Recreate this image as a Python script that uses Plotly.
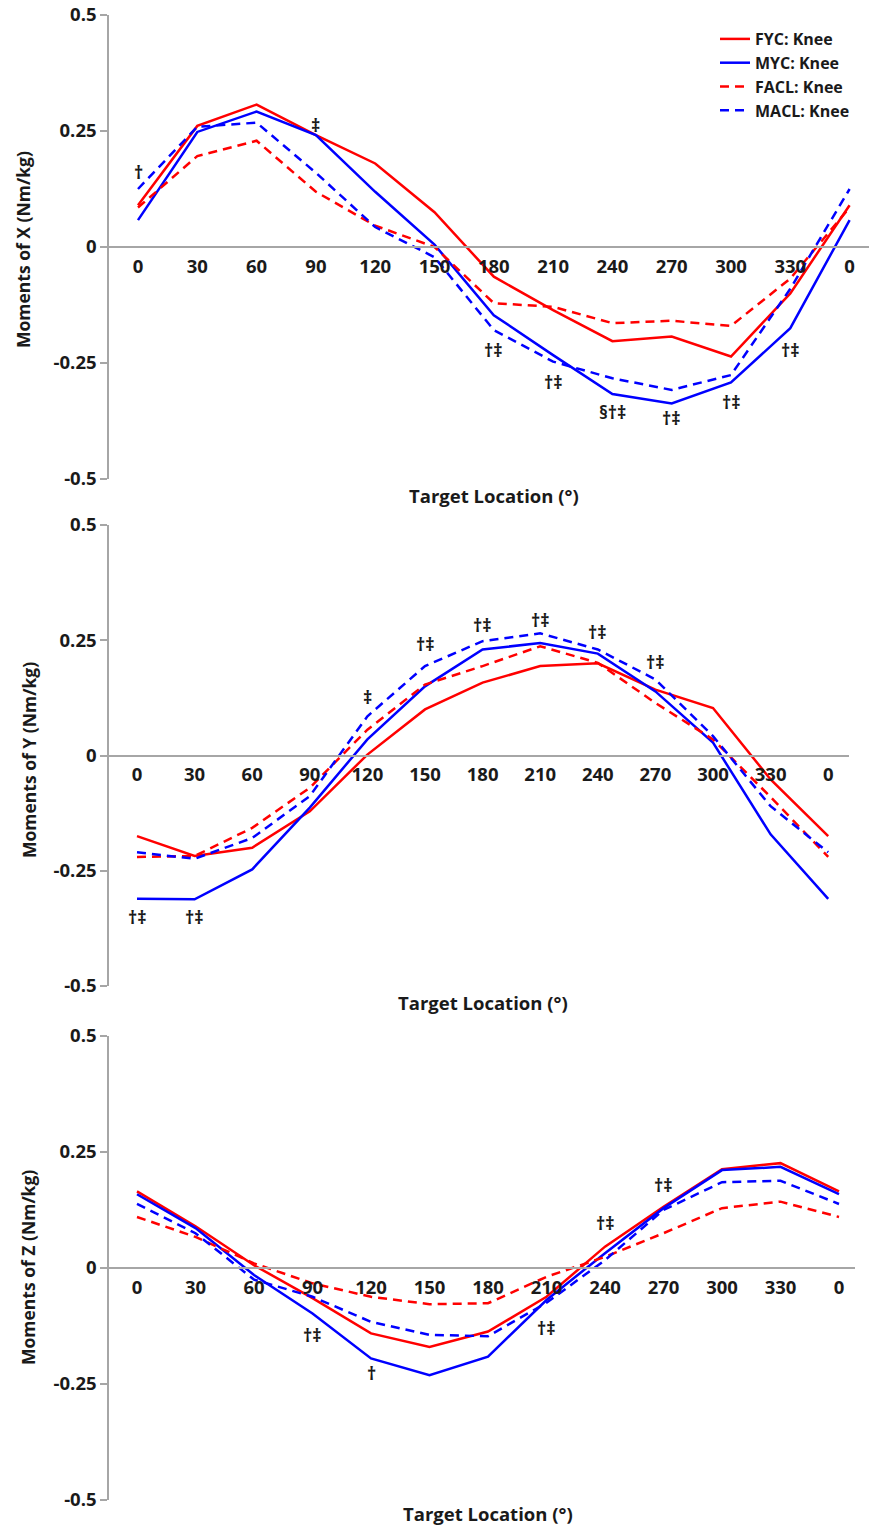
import plotly.graph_objects as go

# ---------------- data ----------------
angle_labels = ["0", "30", "60", "90", "120", "150", "180", "210", "240", "270", "300", "330", "0"]

series_names = ["FYC: Knee", "MYC: Knee", "FACL: Knee", "MACL: Knee"]
series_colors = ["#FF0000", "#0000FF", "#FF0000", "#0000FF"]
series_dash = ["solid", "solid", "9px,6px", "9px,6px"]

# Moments of X
x_fyc = [0.090, 0.261, 0.307, 0.241, 0.180, 0.075, -0.064, -0.136, -0.203, -0.193, -0.236, -0.100, 0.090]
x_myc = [0.058, 0.248, 0.292, 0.241, 0.119, 0.005, -0.147, -0.233, -0.317, -0.337, -0.292, -0.175, 0.058]
x_facl = [0.085, 0.196, 0.229, 0.119, 0.046, 0.000, -0.121, -0.129, -0.164, -0.159, -0.170, -0.068, 0.085]
x_macl = [0.125, 0.259, 0.268, 0.160, 0.043, -0.022, -0.179, -0.247, -0.283, -0.308, -0.276, -0.090, 0.125]

# Moments of Y
y_fyc = [-0.175, -0.218, -0.200, -0.121, 0.002, 0.100, 0.158, 0.194, 0.200, 0.143, 0.103, -0.052, -0.175]
y_myc = [-0.311, -0.312, -0.247, -0.113, 0.035, 0.150, 0.230, 0.244, 0.221, 0.139, 0.028, -0.171, -0.311]
y_facl = [-0.220, -0.218, -0.157, -0.070, 0.056, 0.154, 0.194, 0.237, 0.201, 0.114, 0.035, -0.090, -0.220]
y_macl = [-0.210, -0.224, -0.179, -0.088, 0.085, 0.194, 0.248, 0.265, 0.230, 0.165, 0.042, -0.110, -0.210]

# Moments of Z
z_fyc = [0.165, 0.090, 0.006, -0.065, -0.141, -0.170, -0.137, -0.062, 0.046, 0.132, 0.213, 0.226, 0.165]
z_myc = [0.159, 0.086, -0.015, -0.098, -0.195, -0.231, -0.191, -0.069, 0.032, 0.129, 0.211, 0.218, 0.159]
z_facl = [0.110, 0.067, 0.010, -0.033, -0.062, -0.078, -0.076, -0.019, 0.024, 0.075, 0.129, 0.143, 0.110]
z_macl = [0.138, 0.075, -0.025, -0.062, -0.116, -0.144, -0.147, -0.075, 0.017, 0.125, 0.185, 0.188, 0.138]

# significance markers: (category index, y value, text)
sig_x_idx = [0, 3, 6, 7, 8, 9, 10, 11]
sig_x_val = [0.162, 0.263, -0.222, -0.291, -0.356, -0.369, -0.334, -0.222]
sig_x_txt = ["†", "‡", "†‡", "†‡", "§†‡", "†‡", "†‡", "†‡"]

sig_y_idx = [0, 1, 4, 5, 6, 7, 8, 9]
sig_y_val = [-0.351, -0.351, 0.126, 0.241, 0.284, 0.295, 0.267, 0.202]
sig_y_txt = ["†‡", "†‡", "‡", "†‡", "†‡", "†‡", "†‡", "†‡"]

sig_z_idx = [3, 4, 7, 8, 9]
sig_z_val = [-0.144, -0.226, -0.129, 0.097, 0.179]
sig_z_txt = ["†‡", "†", "†‡", "†‡", "†‡"]

y_titles = ["Moments of X (Nm/kg)", "Moments of Y (Nm/kg)", "Moments of Z (Nm/kg)"]
x_title = "Target Location (°)"
y_ticks = [-0.5, -0.25, 0, 0.25, 0.5]
y_ticktext = ["-0.5", "-0.25", "0", "0.25", "0.5"]

# ---------------- layout geometry (pixels) ----------------
W, H = 870, 1527
FONT = "Open Sans"
TXT = "#1a1a1a"
GREY = "#A6A6A6"

panels = [
    dict(series=[x_fyc, x_myc, x_facl, x_macl], sig=(sig_x_idx, sig_x_val, sig_x_txt),
         xpx=(109, 869), ypx=(15, 479), x0=138, step=59.3, ytitle_px=(23, 250), xtitle_px=(494, 495)),
    dict(series=[y_fyc, y_myc, y_facl, y_macl], sig=(sig_y_idx, sig_y_val, sig_y_txt),
         xpx=(109, 849), ypx=(525, 986), x0=137, step=57.6, ytitle_px=(29, 760), xtitle_px=(483, 1002)),
    dict(series=[z_fyc, z_myc, z_facl, z_macl], sig=(sig_z_idx, sig_z_val, sig_z_txt),
         xpx=(109, 855), ypx=(1036, 1500), x0=137, step=58.5, ytitle_px=(28, 1268), xtitle_px=(488, 1513)),
]

fig = go.Figure()
positions = list(range(len(angle_labels)))
annotations = []

for p, panel in enumerate(panels):
    xa = "x" if p == 0 else f"x{p+1}"
    ya = "y" if p == 0 else f"y{p+1}"
    for s, vals in enumerate(panel["series"]):
        fig.add_trace(go.Scatter(
            x=positions, y=vals, mode="lines", name=series_names[s],
            line=dict(color=series_colors[s], width=2.5, dash=series_dash[s]),
            xaxis=xa, yaxis=ya, showlegend=(p == 0), legendrank=s + 1,
        ))
    xl, xr = panel["xpx"]
    yt, yb = panel["ypx"]
    xdom = [xl / W, xr / W]
    ydom = [1 - yb / H, 1 - yt / H]
    xrange = [(xl - panel["x0"]) / panel["step"], (xr - panel["x0"]) / panel["step"]]
    suffix = "" if p == 0 else str(p + 1)
    fig.layout["xaxis" + suffix] = dict(
        domain=xdom, range=xrange, anchor="free", position=(ydom[0] + ydom[1]) / 2,
        tickmode="array", tickvals=positions, ticktext=angle_labels,
        showline=True, linecolor=GREY, linewidth=1.5, showgrid=False, zeroline=False,
        ticks="", ticklabelstandoff=3, automargin=False,
        tickfont=dict(family=FONT, size=18.5, color=TXT, weight="bold"),
    )
    fig.layout["yaxis" + suffix] = dict(
        domain=ydom, range=[-0.5, 0.5], anchor=xa, tickmode="array",
        tickvals=y_ticks, ticktext=y_ticktext, automargin=False,
        showline=True, linecolor=GREY, linewidth=1.5, showgrid=False, zeroline=False,
        ticks="outside", ticklen=7, tickcolor=GREY, tickwidth=1.5,
        tickfont=dict(family=FONT, size=18.5, color=TXT, weight="bold"),
    )
    idx, vals, txts = panel["sig"]
    for i, v, t in zip(idx, vals, txts):
        annotations.append(dict(x=i, y=v, xref=xa, yref=ya, text=t, showarrow=False,
                                font=dict(family=FONT, size=18, color=TXT, weight="bold")))
    tx, ty = panel["ytitle_px"]
    annotations.append(dict(x=tx / W, y=1 - ty / H, xref="paper", yref="paper", text=y_titles[p],
                            textangle=-90, showarrow=False, xanchor="center", yanchor="middle",
                            font=dict(family=FONT, size=17.5, color=TXT, weight="bold")))
    tx, ty = panel["xtitle_px"]
    annotations.append(dict(x=tx / W, y=1 - ty / H, xref="paper", yref="paper", text=x_title,
                            showarrow=False, xanchor="center", yanchor="middle",
                            font=dict(family=FONT, size=18.5, color=TXT, weight="bold")))

fig.update_layout(
    width=W, height=H, margin=dict(l=0, r=0, t=0, b=0, autoexpand=False),
    paper_bgcolor="white", plot_bgcolor="white",
    annotations=annotations,
    legend=dict(x=715 / W, y=1 - 22 / H, xanchor="left", yanchor="top",
                font=dict(family=FONT, size=16, color=TXT, weight="bold"),
                bgcolor="rgba(255,255,255,0)", tracegroupgap=0, itemwidth=30),
)

fig.write_html("out.html", config={"displayModeBar": False},
               post_script="document.body.style.margin='0px';document.body.style.overflow='hidden';")
